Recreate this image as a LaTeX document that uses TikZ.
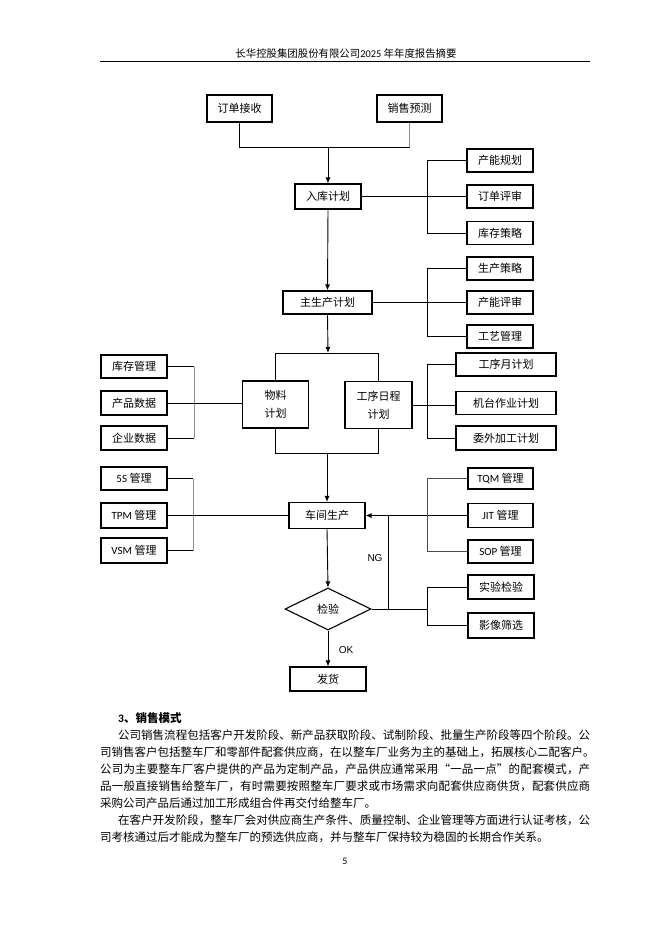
\documentclass[tikz,border=0pt]{standalone}
\usepackage{fontspec}
\setmainfont{Carlito}
\newfontfamily\cjk{Noto Sans CJK SC}
\newfontfamily\latf{Carlito}
\newfontfamily\arialf{Liberation Sans}
\newcommand\lat[1]{{\latf #1}}
\makeatletter
\def\spr@loop#1{\ifx\relax#1\else\hfil#1\expandafter\spr@loop\fi}
\def\spr@first#1{#1\spr@loop}
\newcommand\spreadline[2]{\hbox to #1{\spr@first#2\relax}}
\makeatother
\usetikzlibrary{shapes.geometric,arrows.meta}
\tikzset{
  bx/.style={draw, line width=1.1pt, inner sep=0pt, align=center, font=\cjk\fontsize{11}{18}\selectfont},
  ln/.style={line width=0.9pt},
  lngray/.style={line width=0.9pt, draw=black!45},
  arr/.style={line width=0.9pt, -{Latex[length=6pt,width=5pt]}},
  lbl/.style={inner sep=0pt, font=\arialf\fontsize{10}{12}\selectfont},
  bodyline/.style={anchor=west, inner sep=0pt, font=\cjk\fontsize{11.5}{14}\selectfont},
}
\newcommand\bxn[6]{\node[bx, minimum width=#4pt, minimum height=#5pt] (#1) at (#2,#3) {#6};}
\begin{document}
\begin{tikzpicture}[x=1pt,y=-1pt]
\useasboundingbox (0,0) rectangle (662,936);
\fill[white] (0,0) rectangle (662,936);
% header
\node[inner sep=0pt, font=\cjk\fontsize{10.4}{12}\selectfont] (hdr) at (346,54) {长华控股集团股份有限公司\lat{2025} 年年度报告摘要};
\coordinate (rl) at (100,62);
\coordinate (rr) at (590,62);
\draw[line width=1pt] (rl) -- (rr);
% boxes
\bxn{ddjs}{239.5}{108.5}{65}{27}{订单接收}
\bxn{xsyc}{409.5}{108.5}{65}{27}{销售预测}
\bxn{rkjh}{328}{196.5}{66}{25}{入库计划}
\bxn{cngh}{500}{160.5}{66}{23}{产能规划}
\bxn{ddps}{500}{196.5}{66}{23}{订单评审}
\bxn{kccl}{500}{233}{66}{23}{库存策略}
\bxn{zscjh}{327.5}{302.5}{89}{23}{主生产计划}
\bxn{sccl}{500}{268.5}{66}{23}{生产策略}
\bxn{cnps}{500}{302.5}{66}{23}{产能评审}
\bxn{gygl}{500}{336.5}{66}{23}{工艺管理}
\bxn{wljh}{275.5}{404.5}{66}{47}{物料\\计划}
\bxn{gxrc}{378.5}{405}{67}{47}{工序日程\\计划}
\bxn{kcgl}{134}{366.5}{66}{23}{库存管理}
\bxn{cpsj}{134}{403}{66}{24}{产品数据}
\bxn{qysj}{134}{438}{66}{24}{企业数据}
\bxn{gxyjh}{506}{364.5}{100}{23}{工序月计划}
\bxn{jtzy}{506}{403}{100}{23}{机台作业计划}
\bxn{wwjg}{506}{438}{100}{24}{委外加工计划}
\bxn{s5}{134}{478.5}{66}{23}{\lat{5S} 管理}
\bxn{tpm}{134}{515.5}{66}{25}{\lat{TPM} 管理}
\bxn{vsm}{134}{550.5}{66}{25}{\lat{VSM} 管理}
\bxn{cjsc}{327}{515.5}{76}{26}{车间生产}
\bxn{tqm}{500.5}{478.5}{65}{21}{\lat{TQM} 管理}
\bxn{jit}{500.5}{515.5}{65}{24}{\lat{JIT} 管理}
\bxn{sop}{500.5}{551.5}{65}{23}{\lat{SOP} 管理}
\node[bx, diamond, minimum width=86pt, minimum height=42pt] (jy) at (328,609) {检验};
\bxn{sy}{501}{587}{66}{24}{实验检验}
\bxn{yx}{501}{625.5}{66}{25}{影像筛选}
\bxn{fh}{328}{679}{76}{24}{发货}
% helper coordinates
\coordinate (j1) at (328,147);
\coordinate (bR) at (427,0);
\coordinate (bL) at (194,0);
\coordinate (bL2) at (193,0);
\coordinate (s1) at (328,353);
\coordinate (s2) at (327,453);
\coordinate (ngb) at (388,609);
% top merge
\draw[ln] (ddjs.south) -- (ddjs.south |- j1) -- (xsyc.south |- j1);
\draw[lngray] (xsyc.south |- j1) -- (xsyc.south);
\draw[arr] (j1) -- (rkjh.north);
% rkjh group
\draw[ln] (rkjh.east) -- (ddps.west);
\draw[ln] (cngh.west) -- (cngh.west -| bR) -- (kccl.west -| bR) -- (kccl.west);
\draw[arr] (rkjh.south) -- (zscjh.north);
% zscjh group
\draw[ln] (zscjh.east) -- (cnps.west);
\draw[ln] (sccl.west) -- (sccl.west -| bR) -- (gygl.west -| bR) -- (gygl.west);
% split
\draw[arr] (zscjh.south) -- (s1);
\draw[ln] (wljh.north) -- (wljh.north |- s1) -- (gxrc.north |- s1) -- (gxrc.north);
\draw[ln] (wljh.south) -- (wljh.south |- s2) -- (gxrc.south |- s2) -- (gxrc.south);
\draw[arr] (s2) -- (cjsc.north);
% left data group
\draw[ln] (kcgl.east) -- (kcgl.east -| bL);
\draw[lngray] (kcgl.east -| bL) -- (qysj.east -| bL);
\draw[ln] (qysj.east -| bL) -- (qysj.east);
\draw[ln] (cpsj.east) -- (cpsj.east -| wljh.west);
% right schedule group
\draw[ln] (gxrc.east) -- (gxrc.east -| jtzy.west);
\draw[ln] (gxyjh.west) -- (gxyjh.west -| bR) -- (wwjg.west -| bR) -- (wwjg.west);
% management groups
\draw[ln] (s5.east) -- (s5.east -| bL2);
\draw[lngray] (s5.east -| bL2) -- (vsm.east -| bL2);
\draw[line width=1.4pt] (vsm.east -| bL2) -- (vsm.east);
\draw[ln] (tpm.east) -- (cjsc.west);
\draw[arr] (jit.west) -- (cjsc.east);
\draw[ln, draw=black!70] (tqm.west) -- (tqm.west -| bR) -- (sop.west -| bR) -- (sop.west);
% inspection
\draw[arr] (cjsc.south) -- (jy.north);
\draw[ln] (jy.east) -- (jy.east -| bR);
\draw[ln] (ngb) -- (ngb |- cjsc.east);
\draw[ln] (sy.west) -- (sy.west -| bR) -- (yx.west -| bR) -- (yx.west);
\draw[arr] (jy.south) -- (fh.north);
\node[lbl] (ng) at (375,558) {NG};
\node[lbl] (ok) at (346,650) {OK};
% text
\node[anchor=west, inner sep=0pt, font=\cjk\bfseries\fontsize{11.5}{14}\selectfont] (h3) at (118,718) {\lat{\textbf{3}}、销售模式};
\node[bodyline] (t1) at (118,735) {\spreadline{472pt}{公司销售流程包括客户开发阶段、新产品获取阶段、试制阶段、批量生产阶段等四个阶段。公}};
\node[bodyline] (t2) at (100,752) {\spreadline{490pt}{司销售客户包括整车厂和零部件配套供应商，在以整车厂业务为主的基础上，拓展核心二配客户。}};
\node[bodyline] (t3) at (100,769) {\spreadline{490pt}{公司为主要整车厂客户提供的产品为定制产品，产品供应通常采用“一品一点”的配套模式，产}};
\node[bodyline] (t4) at (100,786) {\spreadline{490pt}{品一般直接销售给整车厂，有时需要按照整车厂要求或市场需求向配套供应商供货，配套供应商}};
\node[bodyline] (t5) at (100,803) {采购公司产品后通过加工形成组合件再交付给整车厂。};
\node[bodyline] (t6) at (118,820) {\spreadline{472pt}{在客户开发阶段，整车厂会对供应商生产条件、质量控制、企业管理等方面进行认证考核，公}};
\node[bodyline] (t7) at (100,837) {司考核通过后才能成为整车厂的预选供应商，并与整车厂保持较为稳固的长期合作关系。};
\node[inner sep=0pt, font=\latf\fontsize{10}{12}\selectfont] (pg) at (345,861) {5};
\end{tikzpicture}
\end{document}
